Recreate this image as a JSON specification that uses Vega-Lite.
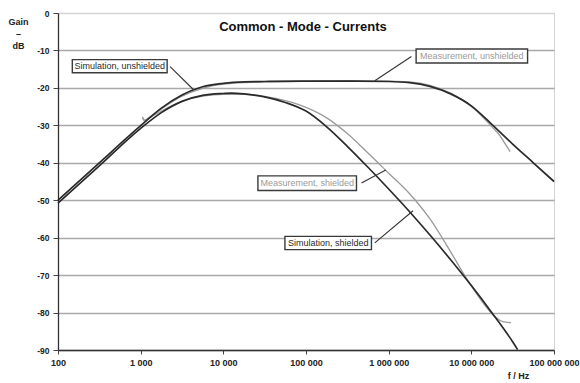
{
  "$schema": "https://vega.github.io/schema/vega-lite/v6.json",
  "autosize": "none",
  "width": 496,
  "height": 337,
  "padding": {"left": 58, "top": 13, "right": 26, "bottom": 33},
  "background": "white",
  "config": {
    "font": "Liberation Sans",
    "view": {"stroke": "#d4d4d4", "strokeWidth": 1}
  },
  "datasets": {
    "curves": [
      {"series": "Simulation, unshielded", "f": 100, "dB": -50.0},
      {"series": "Simulation, unshielded", "f": 316, "dB": -40.0},
      {"series": "Simulation, unshielded", "f": 1000, "dB": -30.1},
      {"series": "Simulation, unshielded", "f": 1780, "dB": -25.4},
      {"series": "Simulation, unshielded", "f": 3160, "dB": -21.9},
      {"series": "Simulation, unshielded", "f": 4370, "dB": -20.5},
      {"series": "Simulation, unshielded", "f": 5620, "dB": -19.7},
      {"series": "Simulation, unshielded", "f": 10000, "dB": -18.8},
      {"series": "Simulation, unshielded", "f": 17800, "dB": -18.4},
      {"series": "Simulation, unshielded", "f": 31600, "dB": -18.3},
      {"series": "Simulation, unshielded", "f": 100000, "dB": -18.2},
      {"series": "Simulation, unshielded", "f": 316000, "dB": -18.2},
      {"series": "Simulation, unshielded", "f": 1000000, "dB": -18.3},
      {"series": "Simulation, unshielded", "f": 1780000, "dB": -18.6},
      {"series": "Simulation, unshielded", "f": 3160000, "dB": -19.6},
      {"series": "Simulation, unshielded", "f": 5620000, "dB": -21.6},
      {"series": "Simulation, unshielded", "f": 10000000, "dB": -24.8},
      {"series": "Simulation, unshielded", "f": 17800000, "dB": -29.8},
      {"series": "Simulation, unshielded", "f": 31600000, "dB": -35.0},
      {"series": "Simulation, unshielded", "f": 56200000, "dB": -40.0},
      {"series": "Simulation, unshielded", "f": 100000000, "dB": -45.0},

      {"series": "Simulation, shielded", "f": 100, "dB": -50.8},
      {"series": "Simulation, shielded", "f": 316, "dB": -40.8},
      {"series": "Simulation, shielded", "f": 1000, "dB": -30.8},
      {"series": "Simulation, shielded", "f": 1780, "dB": -26.6},
      {"series": "Simulation, shielded", "f": 3160, "dB": -23.6},
      {"series": "Simulation, shielded", "f": 5620, "dB": -22.0},
      {"series": "Simulation, shielded", "f": 10000, "dB": -21.5},
      {"series": "Simulation, shielded", "f": 12600, "dB": -21.4},
      {"series": "Simulation, shielded", "f": 17800, "dB": -21.6},
      {"series": "Simulation, shielded", "f": 31600, "dB": -22.4},
      {"series": "Simulation, shielded", "f": 56200, "dB": -23.9},
      {"series": "Simulation, shielded", "f": 100000, "dB": -26.2},
      {"series": "Simulation, shielded", "f": 178000, "dB": -30.4},
      {"series": "Simulation, shielded", "f": 316000, "dB": -35.6},
      {"series": "Simulation, shielded", "f": 562000, "dB": -41.2},
      {"series": "Simulation, shielded", "f": 1000000, "dB": -47.0},
      {"series": "Simulation, shielded", "f": 1780000, "dB": -53.0},
      {"series": "Simulation, shielded", "f": 3160000, "dB": -59.3},
      {"series": "Simulation, shielded", "f": 5620000, "dB": -65.9},
      {"series": "Simulation, shielded", "f": 10000000, "dB": -72.8},
      {"series": "Simulation, shielded", "f": 17800000, "dB": -80.1},
      {"series": "Simulation, shielded", "f": 31600000, "dB": -87.8},
      {"series": "Simulation, shielded", "f": 36300000, "dB": -89.9},

      {"series": "Measurement, unshielded", "f": 1050, "dB": -27.7},
      {"series": "Measurement, unshielded", "f": 1120, "dB": -28.6},
      {"series": "Measurement, unshielded", "f": 1260, "dB": -27.9},
      {"series": "Measurement, unshielded", "f": 1780, "dB": -25.6},
      {"series": "Measurement, unshielded", "f": 3160, "dB": -22.2},
      {"series": "Measurement, unshielded", "f": 5620, "dB": -20.1},
      {"series": "Measurement, unshielded", "f": 10000, "dB": -19.0},
      {"series": "Measurement, unshielded", "f": 31600, "dB": -18.4},
      {"series": "Measurement, unshielded", "f": 100000, "dB": -18.2},
      {"series": "Measurement, unshielded", "f": 316000, "dB": -18.1},
      {"series": "Measurement, unshielded", "f": 1000000, "dB": -18.2},
      {"series": "Measurement, unshielded", "f": 1780000, "dB": -18.4},
      {"series": "Measurement, unshielded", "f": 3160000, "dB": -19.3},
      {"series": "Measurement, unshielded", "f": 5620000, "dB": -21.4},
      {"series": "Measurement, unshielded", "f": 10000000, "dB": -25.0},
      {"series": "Measurement, unshielded", "f": 17800000, "dB": -30.4},
      {"series": "Measurement, unshielded", "f": 21900000, "dB": -32.6},
      {"series": "Measurement, unshielded", "f": 25100000, "dB": -34.6},
      {"series": "Measurement, unshielded", "f": 29500000, "dB": -37.0},

      {"series": "Measurement, shielded", "f": 1050, "dB": -27.9},
      {"series": "Measurement, shielded", "f": 1120, "dB": -28.9},
      {"series": "Measurement, shielded", "f": 1260, "dB": -28.1},
      {"series": "Measurement, shielded", "f": 1780, "dB": -26.2},
      {"series": "Measurement, shielded", "f": 3160, "dB": -23.6},
      {"series": "Measurement, shielded", "f": 5620, "dB": -22.2},
      {"series": "Measurement, shielded", "f": 10000, "dB": -21.7},
      {"series": "Measurement, shielded", "f": 17800, "dB": -21.7},
      {"series": "Measurement, shielded", "f": 31600, "dB": -22.3},
      {"series": "Measurement, shielded", "f": 56200, "dB": -23.4},
      {"series": "Measurement, shielded", "f": 100000, "dB": -25.2},
      {"series": "Measurement, shielded", "f": 178000, "dB": -28.0},
      {"series": "Measurement, shielded", "f": 316000, "dB": -32.2},
      {"series": "Measurement, shielded", "f": 562000, "dB": -37.4},
      {"series": "Measurement, shielded", "f": 1000000, "dB": -42.8},
      {"series": "Measurement, shielded", "f": 1780000, "dB": -48.2},
      {"series": "Measurement, shielded", "f": 3160000, "dB": -55.0},
      {"series": "Measurement, shielded", "f": 5620000, "dB": -63.8},
      {"series": "Measurement, shielded", "f": 7940000, "dB": -69.4},
      {"series": "Measurement, shielded", "f": 10000000, "dB": -72.9},
      {"series": "Measurement, shielded", "f": 16600000, "dB": -79.6},
      {"series": "Measurement, shielded", "f": 20000000, "dB": -81.4},
      {"series": "Measurement, shielded", "f": 24000000, "dB": -82.4},
      {"series": "Measurement, shielded", "f": 30200000, "dB": -82.7}
    ],
    "labels": [
      {"series": "Simulation, unshielded", "f": 558, "dB": -14.2, "fLo": 149, "fHi": 2090, "dBLo": -15.95, "dBHi": -12.45},
      {"series": "Measurement, unshielded", "f": 10140000, "dB": -11.5, "fLo": 2148000, "fHi": 47900000, "dBLo": -13.35, "dBHi": -9.6},
      {"series": "Measurement, shielded", "f": 103500, "dB": -45.5, "fLo": 26200, "fHi": 408000, "dBLo": -47.4, "dBHi": -43.5},
      {"series": "Simulation, shielded", "f": 186000, "dB": -61.4, "fLo": 55600, "fHi": 619000, "dBLo": -63.2, "dBHi": -59.65}
    ],
    "leaders": [
      {"series": "Simulation, unshielded", "fFrom": 2270, "dBFrom": -14.3, "fTo": 4365, "dBTo": -20.5},
      {"series": "Measurement, unshielded", "fFrom": 1884000, "dBFrom": -11.6, "fTo": 679000, "dBTo": -18.1},
      {"series": "Measurement, shielded", "fFrom": 469000, "dBFrom": -45.4, "fTo": 923000, "dBTo": -41.9},
      {"series": "Simulation, shielded", "fFrom": 679000, "dBFrom": -61.4, "fTo": 1972000, "dBTo": -52.8}
    ],
    "heading": [
      {"f": 91800, "dB": -3.7, "text": "Common - Mode - Currents"}
    ]
  },
  "encoding": {
    "x": {
      "field": "f",
      "type": "quantitative",
      "scale": {"type": "log", "domain": [100, 100000000], "nice": false},
      "axis": {
        "values": [100, 1000, 10000, 100000, 1000000, 10000000, 100000000],
        "labelExpr": "replace(replace(replace(format(datum.value, ','), ',', ' '), ',', ' '), ',', ' ')",
        "labelFont": "Liberation Sans",
        "labelFontSize": 9,
        "labelFontWeight": "bold",
        "labelColor": "#222",
        "labelPadding": 4,
        "labelOverlap": false,
        "labelFlush": false,
        "tickSize": 4,
        "tickColor": "#444",
        "domainColor": "#333",
        "domainWidth": 1.3,
        "grid": false,
        "title": "f / Hz",
        "titleFont": "Liberation Sans",
        "titleFontSize": 9,
        "titleFontWeight": "bold",
        "titleColor": "#222",
        "titleX": 460,
        "titleY": 28.5,
        "titleAlign": "center",
        "titleBaseline": "alphabetic"
      }
    },
    "y": {
      "field": "dB",
      "type": "quantitative",
      "scale": {"domain": [-90, 0], "nice": false},
      "axis": {
        "values": [0, -10, -20, -30, -40, -50, -60, -70, -80, -90],
        "labelExpr": "replace(datum.label, '−', '-')",
        "labelFont": "Liberation Sans",
        "labelFontSize": 8.5,
        "labelFontWeight": "bold",
        "labelColor": "#222",
        "labelPadding": 4,
        "tickSize": 5,
        "tickColor": "#444",
        "domainColor": "#333",
        "domainWidth": 1.3,
        "grid": true,
        "gridColor": {"condition": {"test": "datum.value === 0", "value": "#d4d4d4"}, "value": "#a9a9a9"},
        "gridWidth": 1.3,
        "title": ["Gain", "–", "dB"],
        "titleFont": "Liberation Sans",
        "titleFontSize": 9,
        "titleFontWeight": "bold",
        "titleColor": "#222",
        "titleAngle": 0,
        "titleAlign": "center",
        "titleBaseline": "alphabetic",
        "titleLineHeight": 12,
        "titleX": -40,
        "titleY": 11.5
      }
    },
    "color": {
      "field": "series",
      "type": "nominal",
      "scale": {
        "domain": ["Simulation, unshielded", "Simulation, shielded", "Measurement, unshielded", "Measurement, shielded"],
        "range": ["#2a2a2a", "#2a2a2a", "#9a9a9a", "#9a9a9a"]
      },
      "legend": null
    }
  },
  "layer": [
    {
      "data": {"name": "curves"},
      "transform": [{"filter": "indexof(datum.series, 'Measurement') === 0"}],
      "mark": {"type": "line", "interpolate": "monotone", "strokeWidth": 1.3}
    },
    {
      "data": {"name": "curves"},
      "transform": [{"filter": "indexof(datum.series, 'Simulation') === 0"}],
      "mark": {"type": "line", "interpolate": "monotone", "strokeWidth": 1.7}
    },
    {
      "data": {"name": "leaders"},
      "mark": {"type": "rule", "color": "#333", "strokeWidth": 1.1},
      "encoding": {
        "x": {"field": "fFrom", "type": "quantitative"},
        "y": {"field": "dBFrom", "type": "quantitative"},
        "x2": {"field": "fTo"},
        "y2": {"field": "dBTo"},
        "color": {"value": "#333"}
      }
    },
    {
      "data": {"name": "labels"},
      "mark": {"type": "rect", "fill": "white", "stroke": "#3a3a3a", "strokeWidth": 1.4},
      "encoding": {
        "x": {"field": "fLo", "type": "quantitative"},
        "x2": {"field": "fHi"},
        "y": {"field": "dBLo", "type": "quantitative"},
        "y2": {"field": "dBHi"},
        "color": {"value": "white"}
      }
    },
    {
      "data": {"name": "labels"},
      "mark": {"type": "text", "font": "Liberation Sans", "fontSize": 9, "align": "center", "baseline": "middle"},
      "encoding": {
        "text": {"field": "series"}
      }
    },
    {
      "data": {"name": "heading"},
      "mark": {"type": "text", "font": "Liberation Sans", "fontSize": 13, "fontWeight": "bold", "align": "center", "baseline": "middle", "color": "#111"},
      "encoding": {
        "text": {"field": "text"},
        "color": {"value": "#111"}
      }
    }
  ]
}
